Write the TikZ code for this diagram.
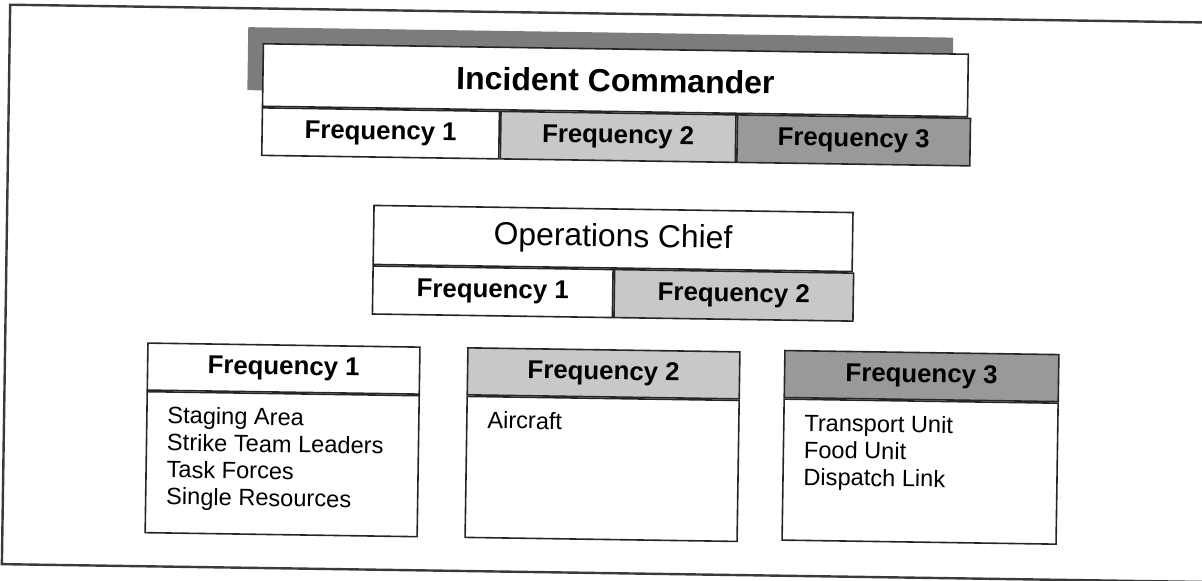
\documentclass[tikz,border=0pt]{standalone}
\usepackage{fontspec}
\setmainfont{Liberation Sans}
\definecolor{shadowgray}{HTML}{7C7C7C}
\definecolor{lightband}{HTML}{C8C8C8}
\definecolor{darkband}{HTML}{999999}
\definecolor{framegray}{HTML}{3A3A3A}
\begin{document}
\begin{tikzpicture}[x=0.5pt,y=-0.5pt,
  box/.style={draw=black!85, line width=0.8pt, inner sep=0pt, anchor=north west},
  freqlabel/.style={font=\fontsize{12.9}{15}\selectfont\bfseries},
  listtext/.style={anchor=north west, inner sep=0pt, align=left,
    font=\fontsize{11.8}{13.5}\selectfont}]
\useasboundingbox (0,0) rectangle (1202,580);
\clip (0,0) rectangle (1202,580);
\begin{scope}[rotate around={-0.85:(601,290)}, transform shape]
  % page frame (right side runs off the sheet)
  \draw[framegray, line width=1.2pt] (1240,13.5) -- (6,13.5) -- (6,573) -- (1240,573);

  % Incident Commander with its shadow band
  \node[fill=shadowgray, anchor=north west, inner sep=0pt,
        minimum width=352.5pt, minimum height=31.5pt] (icshadow) at (244,32) {};
  \node[box, fill=white, minimum width=352.5pt, minimum height=31.25pt,
        font=\fontsize{16}{19}\selectfont\bfseries] (ic) at (259,48) {Incident Commander};
  \node[box, fill=white, minimum width=118.5pt, minimum height=23.75pt, freqlabel]
        (icf1) at (ic.south west) {Frequency 1};
  \node[box, fill=lightband, minimum width=117.5pt, minimum height=23.75pt, freqlabel]
        (icf2) at (icf1.north east) {Frequency 2};
  \node[box, fill=darkband, minimum width=116.5pt, minimum height=23.75pt, freqlabel]
        (icf3) at (icf2.north east) {Frequency 3};

  % Operations Chief
  \node[box, fill=white, minimum width=239.5pt, minimum height=29.5pt,
        font=\fontsize{15.9}{19}\selectfont] (oc) at (372,208) {Operations Chief};
  \node[box, fill=white, minimum width=120pt, minimum height=24pt, freqlabel]
        (ocf1) at (oc.south west) {Frequency 1};
  \node[box, fill=lightband, minimum width=119.5pt, minimum height=24pt, freqlabel]
        (ocf2) at (ocf1.north east) {Frequency 2};

  % Frequency 1 assignments
  \node[box, fill=white, minimum width=136pt, minimum height=23.5pt, freqlabel]
        (f1head) at (148,349) {Frequency 1};
  \node[box, minimum width=136pt, minimum height=70.5pt] (f1body) at (f1head.south west) {};
  \node[listtext] (f1list) at ([shift={(21,15)}]f1body.north west)
        {Staging Area\\Strike Team Leaders\\Task Forces\\Single Resources};

  % Frequency 2 assignments
  \node[box, fill=lightband, minimum width=136pt, minimum height=23.5pt, freqlabel]
        (f2head) at (468,349) {Frequency 2};
  \node[box, minimum width=136pt, minimum height=70.5pt] (f2body) at (f2head.south west) {};
  \node[listtext] (f2list) at ([shift={(21,15)}]f2body.north west) {Aircraft};

  % Frequency 3 assignments
  \node[box, fill=darkband, minimum width=137pt, minimum height=23.5pt, freqlabel]
        (f3head) at (785,347) {Frequency 3};
  \node[box, minimum width=137pt, minimum height=70.5pt] (f3body) at (f3head.south west) {};
  \node[listtext] (f3list) at ([shift={(21,15)}]f3body.north west)
        {Transport Unit\\Food Unit\\Dispatch Link};
\end{scope}
\end{tikzpicture}
\end{document}
